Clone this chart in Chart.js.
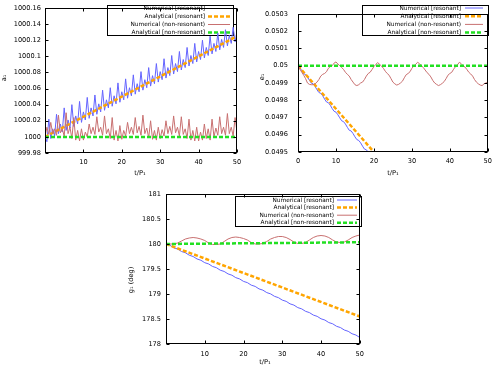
<!DOCTYPE html>
<html>
<head>
<meta charset="utf-8">
<script src="https://cdn.jsdelivr.net/npm/chart.js@4/dist/chart.umd.min.js"></script>
<style>
  body { margin: 0; background: #fff; }
  #wrap { position: relative; width: 497px; height: 367px; }
  canvas { position: absolute; }
</style>
</head>
<body>
<div id="wrap">
  <canvas id="c1" width="248" height="182" style="left:0;top:0;width:248px;height:182px"></canvas>
  <canvas id="c2" width="248" height="182" style="left:249px;top:0;width:248px;height:182px"></canvas>
  <canvas id="c3" width="250" height="185" style="left:120px;top:182px;width:250px;height:185px"></canvas>
</div>
<script>
// legend labels
const seriesLabels = ['Numerical [resonant]', 'Analytical [resonant]', 'Numerical (non-resonant)', 'Analytical [non-resonant]'];

// time grids (t/P1)
const tHalf = [0,0.5,1,1.5,2,2.5,3,3.5,4,4.5,5,5.5,6,6.5,7,7.5,8,8.5,9,9.5,10,10.5,11,11.5,12,12.5,13,13.5,14,14.5,15,15.5,16,16.5,17,17.5,18,18.5,19,19.5,20,20.5,21,21.5,22,22.5,23,23.5,24,24.5,25,25.5,26,26.5,27,27.5,28,28.5,29,29.5,30,30.5,31,31.5,32,32.5,33,33.5,34,34.5,35,35.5,36,36.5,37,37.5,38,38.5,39,39.5,40,40.5,41,41.5,42,42.5,43,43.5,44,44.5,45,45.5,46,46.5,47,47.5,48,48.5,49,49.5,50];
const tInt = [0,1,2,3,4,5,6,7,8,9,10,11,12,13,14,15,16,17,18,19,20,21,22,23,24,25,26,27,28,29,30,31,32,33,34,35,36,37,38,39,40,41,42,43,44,45,46,47,48,49,50];
const analyticT = [0, 50];
const e1AnalyticT = [0, 20];

// a1 panel
const a1NumRes = [1000.000,999.994,1000.022,999.998,1000.010,1000.001,1000.028,1000.004,1000.016,1000.006,
  1000.036,1000.008,1000.021,1000.011,1000.040,1000.013,1000.026,1000.016,1000.044,1000.018,
  1000.031,1000.021,1000.049,1000.023,1000.036,1000.026,1000.052,1000.028,1000.041,1000.031,
  1000.058,1000.033,1000.046,1000.036,1000.061,1000.038,1000.051,1000.041,1000.067,1000.043,
  1000.056,1000.046,1000.072,1000.048,1000.061,1000.051,1000.077,1000.053,1000.066,1000.056,
  1000.081,1000.058,1000.071,1000.061,1000.086,1000.063,1000.076,1000.066,1000.091,1000.068,
  1000.081,1000.071,1000.097,1000.073,1000.086,1000.076,1000.101,1000.078,1000.091,1000.081,
  1000.106,1000.083,1000.096,1000.086,1000.111,1000.088,1000.101,1000.091,1000.116,1000.093,
  1000.106,1000.096,1000.120,1000.098,1000.111,1000.101,1000.125,1000.103,1000.116,1000.106,
  1000.129,1000.108,1000.121,1000.111,1000.133,1000.113,1000.126,1000.116,1000.136,1000.118,1000.131];
const a1AnaRes = [1000, 1000.125];
const a1NumNon = [1000.000,1000.012,1000.003,1000.018,1000.004,1000.010,1000.002,1000.027,1000.005,1000.010,
  1000.001,1000.030,1000.004,1000.012,999.998,1000.024,999.996,1000.008,999.995,1000.010,
  999.996,1000.006,1000.000,1000.016,1000.004,1000.012,1000.003,1000.025,1000.006,1000.012,
  1000.002,1000.026,1000.004,1000.010,999.998,1000.024,999.996,1000.008,999.995,1000.014,
  999.997,1000.008,1000.001,1000.018,1000.004,1000.012,1000.003,1000.024,1000.005,1000.013,
  1000.002,1000.027,1000.004,1000.011,999.999,1000.020,999.997,1000.008,999.996,1000.012,
  999.998,1000.009,1000.001,1000.020,1000.004,1000.013,1000.003,1000.026,1000.005,1000.012,
  1000.001,1000.025,1000.003,1000.010,999.998,1000.022,999.996,1000.008,999.995,1000.012,
  999.995,1000.006,999.996,1000.016,999.998,1000.010,999.996,1000.022,1000.000,1000.011,
  1000.002,1000.025,1000.004,1000.012,1000.002,1000.029,1000.004,1000.012,1000.001,1000.024,1000.006];
const a1AnaNon = [1000, 1000];
const a1Ticks = [999.98,1000,1000.02,1000.04,1000.06,1000.08,1000.1,1000.12,1000.14,1000.16];

// e1 panel
const e1NumRes = [0.050000,0.049989,0.049971,0.049954,0.049949,0.049935,0.049916,0.049899,0.049895,0.049880,
  0.049861,0.049845,0.049840,0.049826,0.049807,0.049790,0.049786,0.049771,0.049752,0.049736,
  0.049731,0.049716,0.049698,0.049681,0.049676,0.049662,0.049643,0.049626,0.049622,0.049607,
  0.049588,0.049572,0.049567,0.049553,0.049534,0.049517,0.049513,0.049498,0.049479,0.049463,0.049458];
const e1AnaRes = [0.05, 0.0495];
const e1NumNon = [0.050000,0.049980,0.049962,0.049945,0.049925,0.049900,0.049892,0.049890,0.049890,0.049895,
  0.049905,0.049920,0.049940,0.049950,0.049955,0.049965,0.049985,0.049995,0.050000,0.050015,
  0.050022,0.050010,0.050000,0.049990,0.049978,0.049962,0.049950,0.049940,0.049920,0.049905,
  0.049890,0.049885,0.049890,0.049900,0.049905,0.049920,0.049940,0.049955,0.049962,0.049978,
  0.049995,0.050008,0.050018,0.050008,0.049998,0.049985,0.049968,0.049955,0.049945,0.049925,
  0.049905,0.049895,0.049888,0.049892,0.049900,0.049910,0.049930,0.049948,0.049955,0.049965,
  0.049985,0.049998,0.050008,0.050020,0.050012,0.050000,0.049990,0.049975,0.049960,0.049950,
  0.049935,0.049915,0.049900,0.049892,0.049885,0.049890,0.049898,0.049908,0.049925,0.049945,
  0.049955,0.049962,0.049980,0.049995,0.050005,0.050020,0.050012,0.050000,0.049992,0.049978,
  0.049962,0.049952,0.049940,0.049920,0.049905,0.049895,0.049888,0.049885,0.049895,0.049900,0.049905];
const e1AnaNon = [0.05, 0.05];
const e1Ticks = [0.0495,0.0496,0.0497,0.0498,0.0499,0.05,0.0501,0.0502,0.0503];

// g1 panel (deg)
const g1NumRes = [180.000,179.975,179.925,179.900,179.850,179.825,179.776,179.750,179.701,179.675,
  179.626,179.601,179.551,179.526,179.476,179.451,179.402,179.376,179.327,179.301,
  179.252,179.227,179.177,179.152,179.102,179.077,179.028,179.002,178.953,178.927,
  178.878,178.853,178.803,178.778,178.728,178.703,178.654,178.628,178.579,178.553,
  178.504,178.479,178.429,178.404,178.354,178.329,178.280,178.254,178.205,178.179,178.130];
const g1AnaRes = [180, 178.55];
const g1NumNon = [180.00,180.00,180.00,180.02,180.06,180.10,180.12,180.13,180.12,180.10,
  180.07,180.02,179.99,179.99,180.00,180.05,180.10,180.13,180.14,180.13,
  180.11,180.08,180.03,180.00,180.00,180.01,180.05,180.10,180.13,180.15,
  180.15,180.13,180.09,180.04,180.01,180.01,180.03,180.08,180.13,180.16,
  180.17,180.16,180.13,180.08,180.04,180.03,180.04,180.08,180.13,180.16,180.18];
const g1AnaNon = [180, 180.035];
const g1Ticks = [178,178.5,179,179.5,180,180.5,181];

const tTicks = [0,10,20,30,40,50];

const FONT = 'DejaVu Sans';
const blue = '#6464ff', orange = '#ffa500', rose = '#c87070', green = '#22e022';

function pts(ts, vs) {
  return vs.map((v, i) => ({ x: ts[i], y: v }));
}

function line(label, data, color, width, dash, order) {
  return {
    label: label, data: data, borderColor: color, borderWidth: width,
    borderDash: dash, pointRadius: 0, tension: 0, order: order, fill: false
  };
}

// gnuplot-like frame: box, inward ticks on 4 sides, axis titles, key box
const gnuplotFrame = {
  id: 'gnuplotFrame',
  beforeDatasetsDraw(chart, args, opts) {
    const ctx = chart.ctx, k = opts.key;
    ctx.save();
    ctx.strokeStyle = '#000';
    ctx.lineWidth = 1;
    ctx.strokeRect(k.left + 0.5, k.top + 0.5, k.right - k.left, k.bottom - k.top);
    ctx.font = '5.8px "' + FONT + '"';
    ctx.fillStyle = '#000';
    ctx.textAlign = 'right';
    ctx.textBaseline = 'middle';
    chart.data.datasets.forEach((ds, i) => {
      const y = k.row0 + i * k.step;
      ctx.fillText(ds.label, k.textRight, y);
      ctx.beginPath();
      ctx.strokeStyle = ds.borderColor;
      ctx.lineWidth = ds.borderWidth;
      ctx.setLineDash(ds.borderDash);
      ctx.moveTo(k.lineFrom, y);
      ctx.lineTo(k.lineTo, y);
      ctx.stroke();
    });
    ctx.restore();
  },
  afterDraw(chart, args, opts) {
    const ctx = chart.ctx, a = chart.chartArea;
    const xs = chart.scales.x, ys = chart.scales.y;
    const L = Math.round(a.left) + 0.5, R = Math.round(a.right) - 0.5;
    const T = Math.round(a.top) + 0.5, B = Math.round(a.bottom) - 0.5;
    ctx.save();
    ctx.strokeStyle = '#000';
    ctx.lineWidth = 1;
    ctx.setLineDash([]);
    ctx.strokeRect(L, T, R - L, B - T);
    ctx.beginPath();
    xs.ticks.forEach(t => {
      const px = Math.round(xs.getPixelForValue(t.value)) + 0.5;
      ctx.moveTo(px, B); ctx.lineTo(px, B - 3);
      ctx.moveTo(px, T); ctx.lineTo(px, T + 3);
    });
    ys.ticks.forEach(t => {
      const py = Math.round(ys.getPixelForValue(t.value)) + 0.5;
      ctx.moveTo(L, py); ctx.lineTo(L + 3, py);
      ctx.moveTo(R, py); ctx.lineTo(R - 3, py);
    });
    ctx.stroke();
    ctx.fillStyle = '#000';
    ctx.font = '6.6px "' + FONT + '"';
    ctx.textAlign = 'center';
    ctx.textBaseline = 'middle';
    ctx.fillText(opts.xTitle, opts.xTitlePos[0], opts.xTitlePos[1]);
    ctx.translate(opts.yTitlePos[0], opts.yTitlePos[1]);
    ctx.rotate(-Math.PI / 2);
    ctx.fillText(opts.yTitle, 0, 0);
    ctx.restore();
  }
};

function makeChart(id, datasets, yTicks, yMin, yMax, frame, lay) {
  return new Chart(id, {
    type: 'line',
    data: { datasets: datasets },
    options: {
      responsive: false,
      animation: false,
      devicePixelRatio: 1,
      layout: { padding: lay.padding },
      plugins: {
        legend: { display: false },
        tooltip: { enabled: false },
        gnuplotFrame: frame
      },
      scales: {
        x: {
          type: 'linear', min: 0, max: 50,
          grid: { display: false, drawTicks: false },
          border: { display: false },
          afterBuildTicks: s => { s.ticks = tTicks.map(v => ({ value: v })); },
          afterFit: s => { s.height = lay.xHeight; },
          ticks: {
            color: '#000', padding: lay.xPad, maxRotation: 0,
            font: { family: FONT, size: 6.6 },
            callback: v => (v === 0 && lay.hideZero) ? '' : String(v)
          }
        },
        y: {
          type: 'linear', min: yMin, max: yMax,
          grid: { display: false, drawTicks: false },
          border: { display: false },
          afterBuildTicks: s => { s.ticks = yTicks.map(v => ({ value: v })); },
          afterFit: s => { s.width = lay.yWidth; },
          ticks: {
            color: '#000', padding: lay.yPad,
            font: { family: FONT, size: 6.6 },
            callback: v => String(v)
          }
        }
      }
    },
    plugins: [gnuplotFrame]
  });
}

makeChart('c1', [
  line(seriesLabels[0], pts(tHalf, a1NumRes), blue, 1, [], 4),
  line(seriesLabels[1], pts(analyticT, a1AnaRes), orange, 2.5, [4, 2], 3),
  line(seriesLabels[2], pts(tHalf, a1NumNon), rose, 1, [], 2),
  line(seriesLabels[3], pts(analyticT, a1AnaNon), green, 2.5, [4, 2], 1)
], a1Ticks, 999.98, 1000.16, {
  xTitle: 't/P\u2081', xTitlePos: [140, 173],
  yTitle: 'a\u2081', yTitlePos: [4, 78],
  key: { left: 107, top: 5, right: 233, bottom: 35, row0: 8.5, step: 8, textRight: 205, lineFrom: 208, lineTo: 230 }
}, { padding: { left: 0, top: 3, right: 11, bottom: 0 }, xHeight: 29, yWidth: 45, xPad: 5, yPad: 4, hideZero: true });

makeChart('c2', [
  line(seriesLabels[0], pts(tHalf, e1NumRes), blue, 1, [], 4),
  line(seriesLabels[1], pts(e1AnalyticT, e1AnaRes), orange, 2.5, [4, 2], 3),
  line(seriesLabels[2], pts(tHalf, e1NumNon), rose, 1, [], 2),
  line(seriesLabels[3], pts(analyticT, e1AnaNon), green, 2.5, [4, 2], 1)
], e1Ticks, 0.0495, 0.0503, {
  xTitle: 't/P\u2081', xTitlePos: [144, 173],
  yTitle: 'e\u2081', yTitlePos: [13, 77],
  key: { left: 113, top: 5, right: 239, bottom: 35, row0: 8, step: 8.2, textRight: 212, lineFrom: 216, lineTo: 234 }
}, { padding: { left: 0, top: 3, right: 6, bottom: 0 }, xHeight: 30, yWidth: 49, xPad: 5, yPad: 10, hideZero: false });

makeChart('c3', [
  line(seriesLabels[0], pts(tInt, g1NumRes), blue, 1, [], 4),
  line(seriesLabels[1], pts(analyticT, g1AnaRes), orange, 2.5, [4, 2], 3),
  line(seriesLabels[2], pts(tInt, g1NumNon), rose, 1, [], 2),
  line(seriesLabels[3], pts(analyticT, g1AnaNon), green, 2.5, [4, 2], 1)
], g1Ticks, 178, 181, {
  xTitle: 't/P\u2081', xTitlePos: [145, 180.5],
  yTitle: 'g\u2081 (deg)', yTitlePos: [11.5, 98],
  key: { left: 115, top: 14, right: 241, bottom: 44, row0: 18, step: 7.6, textRight: 214, lineFrom: 217, lineTo: 237 }
}, { padding: { left: 0, top: 12, right: 5, bottom: 0 }, xHeight: 23, yWidth: 46, xPad: 6, yPad: 5, hideZero: true });
</script>
</body>
</html>
